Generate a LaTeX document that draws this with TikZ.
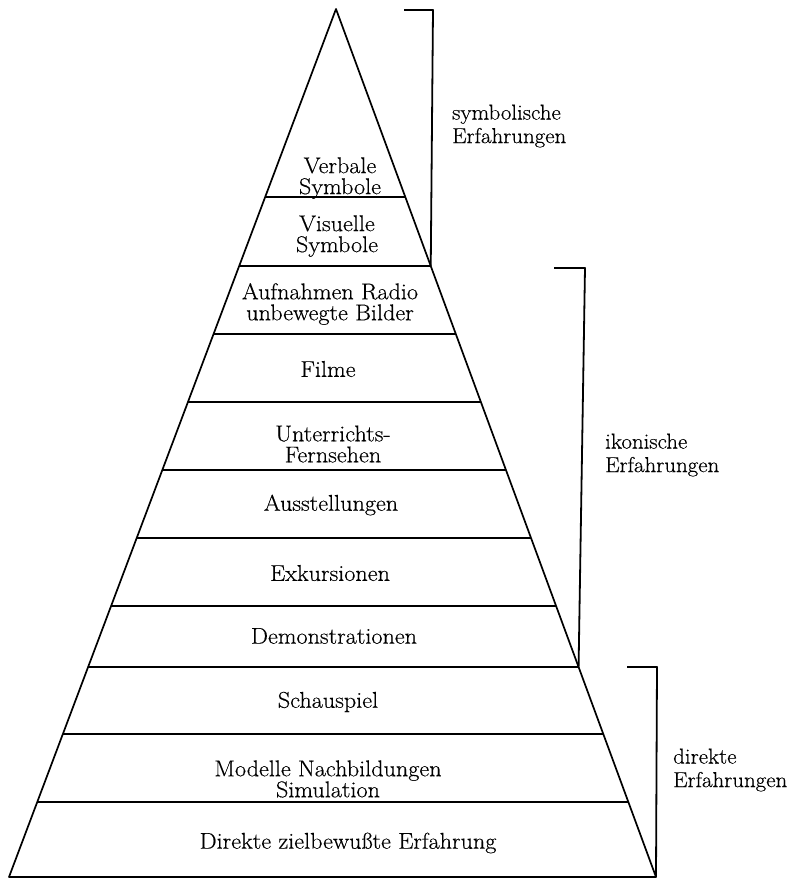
\documentclass[tikz,border=0pt]{standalone}
\usepackage{fontspec}
\setmainfont{Latin Modern Roman}[FakeStretch=1.06,FakeBold=0.4]
\usetikzlibrary{calc}
\begin{document}
\begin{tikzpicture}[x=1pt,y=-1pt, line join=round,
  lbl/.style={font=\fontsize{22.8}{21}\selectfont, align=center, inner sep=0pt},
  side/.style={font=\fontsize{21.6}{23.5}\selectfont, align=left, anchor=west, inner sep=0pt},
  edge/.style={draw=black, line width=1.7pt},
  tier/.style={draw=black, line width=1.6pt},
  brace/.style={draw=black, line width=1.8pt}]
\useasboundingbox (0,0) rectangle (798,879);
% pyramid corners
\coordinate (A) at (336,9);
\coordinate (BL) at (9,877);
\coordinate (BR) at (656,877);
% tier boundaries
\foreach \y/\n in {197/1,266/2,334/3,402/4,470/5,538/6,606/7,667/8,734/9,802/10}{
  \coordinate (L\n) at ($(A)!{(\y-9)/868}!(BL)$);
  \coordinate (R\n) at ($(A)!{(\y-9)/868}!(BR)$);
  \draw[tier] (L\n) -- (R\n);
}
\draw[edge] (BL) -- (A) -- (BR) -- cycle;
% brackets
\coordinate (s1) at (404,10);
\coordinate (s2) at (433,10);
\draw[brace] (s1) -- (s2) -- (R2);
\coordinate (i1) at (554,268);
\coordinate (i2) at (585,268);
\draw[brace] (i1) -- (i2) -- (R8);
\coordinate (d1) at (627,667);
\coordinate (d2) at (657,667);
\draw[brace] (d1) -- (d2) -- (BR);
% tier labels
\node[lbl] (t1) at (340,178) {Verbale\\Symbole};
\node[lbl] (t2) at (337,236) {Visuelle\\Symbole};
\node[lbl] (t3) at (330,304) {Aufnahmen Radio\\unbewegte Bilder};
\node[lbl] (t4) at (328,369) {Filme};
\node[lbl] (t5) at (333,444) {Unterrichts-\\Fernsehen};
\node[lbl] (t6) at (331,505) {Ausstellungen};
\node[lbl] (t7) at (330,573) {Exkursionen};
\node[lbl] (t8) at (334,636) {Demonstrationen};
\node[lbl] (t9) at (328,702) {Schauspiel};
\node[lbl] (t10) at (328,779) {Modelle Nachbildungen\\Simulation};
\node[lbl] (t11) at (348,843) {Direkte zielbewußte Erfahrung};
% side labels
\node[side] (g1) at (452,126) {symbolische\\Erfahrungen};
\node[side] (g2) at (605,455) {ikonische\\Erfahrungen};
\node[side] (g3) at (673,770) {direkte\\Erfahrungen};
\end{tikzpicture}
\end{document}
